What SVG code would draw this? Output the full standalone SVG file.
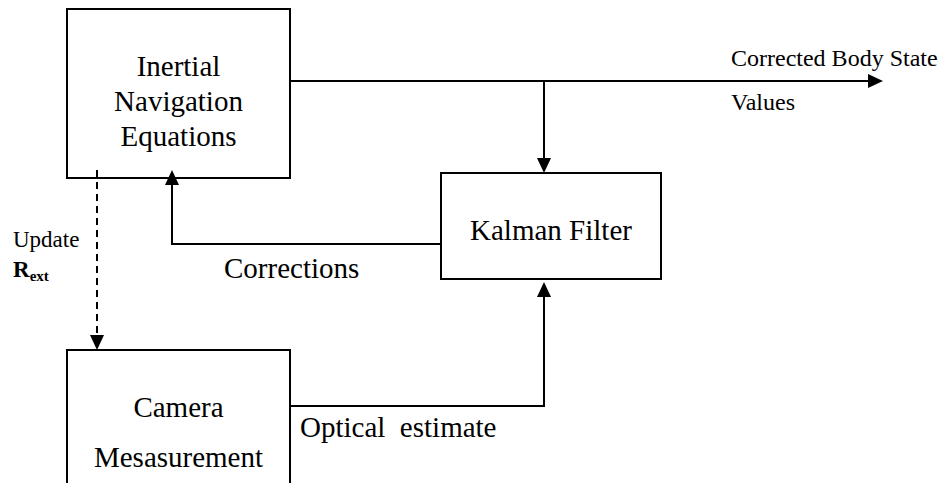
<svg xmlns="http://www.w3.org/2000/svg" width="951" height="483" viewBox="0 0 951 483">
<style>
.box{fill:#fff;stroke:#000;stroke-width:2}
.ln{fill:none;stroke:#000;stroke-width:2}
.dash{fill:none;stroke:#000;stroke-width:2;stroke-dasharray:7 5}
.ah{fill:#000;stroke:none}
text{font-family:"Liberation Serif","Times New Roman",serif;fill:#000}
.big{font-size:29px}
.mid{font-size:24px}
</style>
<rect width="951" height="483" fill="#fff"/>
<g id="inertial">
<rect class="box" x="67" y="9" width="223" height="169"/>
<text class="big" x="178.5" y="76" text-anchor="middle">Inertial</text>
<text class="big" x="178.5" y="111" text-anchor="middle">Navigation</text>
<text class="big" x="178.5" y="146" text-anchor="middle">Equations</text>
</g>
<g id="kalman">
<rect class="box" x="441" y="173" width="220" height="106"/>
<text class="big" x="551" y="240" text-anchor="middle">Kalman Filter</text>
</g>
<g id="camera">
<rect class="box" x="67" y="350" width="223" height="160"/>
<text class="big" x="178.5" y="417" text-anchor="middle">Camera</text>
<text class="big" x="178.5" y="467" text-anchor="middle">Mesasurement</text>
</g>
<g id="connectors">
<path class="ln" d="M290 81 H869"/>
<polygon class="ah" points="883,81 868,74 868,88"/>
<path class="ln" d="M544 81 V160"/>
<polygon class="ah" points="544,173 537,158 551,158"/>
<path class="ln" d="M441 244 H172 V184"/>
<polygon class="ah" points="172,170 165,185 179,185"/>
<path class="ln" d="M290 406 H544 V296"/>
<polygon class="ah" points="544,282 537,297 551,297"/>
<path class="dash" d="M97 170 V336"/>
<polygon class="ah" points="97,350 90,335 104,335"/>
</g>
<g id="labels">
<text class="mid" x="731" y="66">Corrected Body State</text>
<text class="mid" x="731" y="110">Values</text>
<text class="big" x="224" y="278">Corrections</text>
<text class="big" x="300" y="437" xml:space="preserve">Optical  estimate</text>
<text x="13" y="247" font-size="23">Update</text>
<text x="13" y="277" font-size="23" font-weight="bold">R<tspan font-size="15" dy="4">ext</tspan></text>
</g>
</svg>
